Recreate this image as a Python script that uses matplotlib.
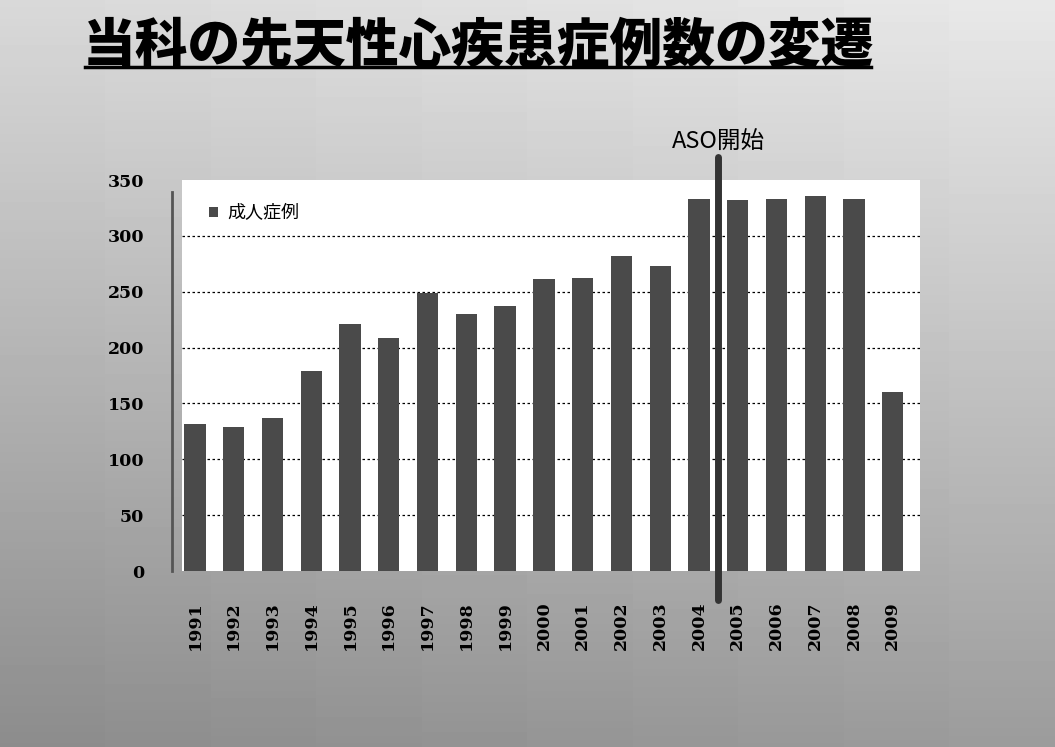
import numpy as np, matplotlib; matplotlib.use('Agg')
import matplotlib.pyplot as plt

plt.rcParams['font.family'] = ['Noto Sans CJK JP', 'DejaVu Sans']

years = ['1991','1992','1993','1994','1995','1996','1997','1998','1999','2000',
         '2001','2002','2003','2004','2005','2006','2007','2008','2009']
cases = [132,129,137,179,221,209,249,230,237,261,262,282,273,333,332,333,336,333,160]
yticks = [0,50,100,150,200,250,300,350]
title = '当科の先天性心疾患症例数の変遷'
legend_label = '成人症例'
marker_label = 'ASO開始'
aso_pos = 13.5  # between 2004 and 2005

fig = plt.figure(figsize=(10.55,7.47), dpi=100)
# gray gradient background (lighter at top)
bg = fig.add_axes([0,0,1,1]); bg.axis('off')
g = np.linspace(0.58,0.88,200)[:,None]*np.ones((1,10))
g = g + np.linspace(-0.03,0.03,10)[None,:]
bg.imshow(g, cmap='gray', vmin=0, vmax=1, aspect='auto', origin='lower', extent=[0,1,0,1])
bg.set_xlim(0,1); bg.set_ylim(0,1)

fig.text(0.079,0.918,title,fontsize=38,fontweight='heavy',va='baseline',ha='left',color='black')
bg.plot([0.081,0.826],[0.910,0.910],color='black',lw=2.5)

ax = fig.add_axes([0.1725,0.2356,0.6995,0.5234])
ax.set_facecolor('white')
x = np.arange(len(years))
ax.bar(x,cases,width=0.55,color='#4a4a4a',label=legend_label,zorder=3)
ax.set_xlim(-0.335,18.7); ax.set_ylim(0,350)
ax.set_yticks(yticks)
for v in yticks[1:-1]:
    ax.axhline(v,color='black',ls=(0,(2,2)),lw=0.9,zorder=1)
ax.set_xticks(x); ax.set_xticklabels(years,rotation=90,fontsize=12.5,fontweight='bold',family='DejaVu Serif')
ax.set_yticklabels([str(v) for v in yticks],fontsize=12.5,fontweight='bold',family='DejaVu Serif')
ax.tick_params(axis='x',length=0,pad=22)
ax.tick_params(axis='y',length=0,pad=27)
for s in ax.spines.values(): s.set_visible(False)
ax.plot([-0.013,-0.013],[0,0.97],transform=ax.transAxes,color='#555555',lw=2,clip_on=False)
leg = ax.legend(loc='upper left',frameon=False,fontsize=13,handlelength=0.5,handleheight=0.5,
                handletextpad=0.5,borderaxespad=0.3,bbox_to_anchor=(0.02,0.97))
# ASO start marker
ax.plot([aso_pos,aso_pos],[-0.075,1.06],transform=ax.get_xaxis_transform(),color='#333333',lw=5,
        clip_on=False,zorder=5,solid_capstyle='round')
ax.text(aso_pos,1.07,marker_label,transform=ax.get_xaxis_transform(),ha='center',va='bottom',fontsize=17)

fig.savefig('out.png',dpi=100)
